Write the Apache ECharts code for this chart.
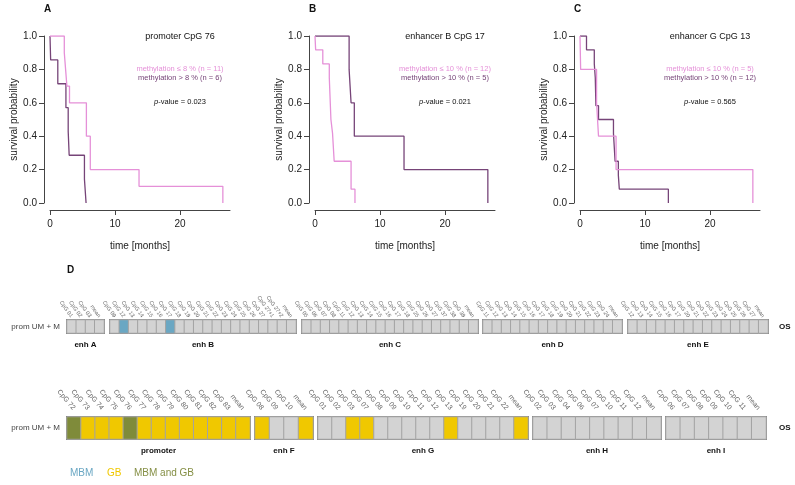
<!DOCTYPE html>
<html>
<head>
<meta charset="utf-8">
<script src="https://cdn.jsdelivr.net/npm/echarts@6/dist/echarts.min.js"></script>
<style>
  html, body { margin: 0; padding: 0; background: #fff; }
  #chart { width: 795px; height: 485px; }
</style>
</head>
<body>
<div id="chart"></div>
<script>
// Kaplan-Meier steps: [time in months, survival probability]
const kmA_low = [[0, 1], [2.2, 0.9], [2.4, 0.8], [2.6, 0.7], [3.0, 0.6], [5.6, 0.4], [6.2, 0.2], [13.7, 0.1], [26.6, 0]];
const kmA_high = [[0, 1], [0.1, 0.857], [1.2, 0.714], [2.45, 0.571], [2.8, 0.429], [2.95, 0.286], [5.3, 0.143], [5.55, 0]];
const kmB_low = [[0, 1], [0.1, 0.917], [1.2, 0.833], [2.2, 0.75], [2.45, 0.5], [2.7, 0.417], [2.95, 0.25], [5.55, 0.083], [6.15, 0]];
const kmB_high = [[0, 1], [5.25, 0.8], [5.55, 0.6], [6.05, 0.4], [13.7, 0.2], [26.6, 0]];
const kmC_low = [[0, 1], [0.1, 0.8], [2.55, 0.6], [2.85, 0.4], [5.55, 0.2], [26.6, 0]];
const kmC_high = [[0, 1], [1.0, 0.917], [2.2, 0.833], [2.35, 0.75], [2.45, 0.583], [2.85, 0.5], [5.15, 0.417], [5.4, 0.25], [5.9, 0.167], [6.05, 0.083], [13.6, 0]];

const yTicks = [0, 0.2, 0.4, 0.6, 0.8, 1.0];
const xTicks = [0, 10, 20];

// heat strip: 0 = none, 1 = MBM, 2 = GB, 3 = MBM and GB
const enhA_cpg = ['CpG 01', 'CpG 02', 'CpG 03', 'mean'];
const enhA_val = [0, 0, 0, 0];
const enhB_cpg = ['CpG 09', 'CpG 12', 'CpG 13', 'CpG 14', 'CpG 15', 'CpG 16', 'CpG 17', 'CpG 18', 'CpG 19', 'CpG 20', 'CpG 21', 'CpG 22', 'CpG 23', 'CpG 24', 'CpG 25', 'CpG 26', 'CpG 27', 'CpG 27+1', 'CpG 27+2', 'mean'];
const enhB_val = [0, 1, 0, 0, 0, 0, 1, 0, 0, 0, 0, 0, 0, 0, 0, 0, 0, 0, 0, 0];
const enhC_cpg = ['CpG 05', 'CpG 06', 'CpG 07', 'CpG 08', 'CpG 11', 'CpG 12', 'CpG 13', 'CpG 14', 'CpG 15', 'CpG 16', 'CpG 17', 'CpG 18', 'CpG 25', 'CpG 26', 'CpG 27', 'CpG 37', 'CpG 38', 'CpG 39', 'mean'];
const enhC_val = [0, 0, 0, 0, 0, 0, 0, 0, 0, 0, 0, 0, 0, 0, 0, 0, 0, 0, 0];
const enhD_cpg = ['CpG 11', 'CpG 12', 'CpG 13', 'CpG 14', 'CpG 15', 'CpG 16', 'CpG 17', 'CpG 18', 'CpG 19', 'CpG 20', 'CpG 21', 'CpG 22', 'CpG 23', 'CpG 24', 'mean'];
const enhD_val = [0, 0, 0, 0, 0, 0, 0, 0, 0, 0, 0, 0, 0, 0, 0];
const enhE_cpg = ['CpG 12', 'CpG 13', 'CpG 14', 'CpG 15', 'CpG 16', 'CpG 17', 'CpG 20', 'CpG 21', 'CpG 22', 'CpG 23', 'CpG 24', 'CpG 25', 'CpG 26', 'CpG 27', 'mean'];
const enhE_val = [0, 0, 0, 0, 0, 0, 0, 0, 0, 0, 0, 0, 0, 0, 0];
const prom_cpg = ['CpG 72', 'CpG 73', 'CpG 74', 'CpG 75', 'CpG 76', 'CpG 77', 'CpG 78', 'CpG 79', 'CpG 80', 'CpG 81', 'CpG 82', 'CpG 83', 'mean'];
const prom_val = [3, 2, 2, 2, 3, 2, 2, 2, 2, 2, 2, 2, 2];
const enhF_cpg = ['CpG 08', 'CpG 09', 'CpG 10', 'mean'];
const enhF_val = [2, 0, 0, 2];
const enhG_cpg = ['CpG 01', 'CpG 02', 'CpG 03', 'CpG 07', 'CpG 08', 'CpG 09', 'CpG 10', 'CpG 11', 'CpG 12', 'CpG 13', 'CpG 19', 'CpG 20', 'CpG 21', 'CpG 22', 'mean'];
const enhG_val = [0, 0, 2, 2, 0, 0, 0, 0, 0, 2, 0, 0, 0, 0, 2];
const enhH_cpg = ['CpG 02', 'CpG 03', 'CpG 04', 'CpG 06', 'CpG 07', 'CpG 10', 'CpG 11', 'CpG 12', 'mean'];
const enhH_val = [0, 0, 0, 0, 0, 0, 0, 0, 0];
const enhI_cpg = ['CpG 06', 'CpG 07', 'CpG 08', 'CpG 09', 'CpG 10', 'CpG 11', 'mean'];
const enhI_val = [0, 0, 0, 0, 0, 0, 0];

const FONT = 'Liberation Sans, Arial, sans-serif';
const pink = '#e590d8';
const purple = '#764478';

const kmPanels = [
  { letter: 'A', left: 50, title: 'promoter CpG 76', lowLab: 'methylation ≤ 8 % (n = 11)', highLab: 'methylation > 8 % (n = 6)', p: '0.023', low: kmA_low, high: kmA_high },
  { letter: 'B', left: 315, title: 'enhancer B CpG 17', lowLab: 'methylation ≤ 10 % (n = 12)', highLab: 'methylation > 10 % (n = 5)', p: '0.021', low: kmB_low, high: kmB_high },
  { letter: 'C', left: 580, title: 'enhancer G CpG 13', lowLab: 'methylation ≤ 10 % (n = 5)', highLab: 'methylation > 10 % (n = 12)', p: '0.565', low: kmC_low, high: kmC_high }
];

const stripRows = [
  { top: 320, height: 13, fontSize: 5.5, rotate: 55, margin: 3, nameY: 345, groups: [
    { name: 'enh A', left: 67, width: 37, cpg: enhA_cpg, val: enhA_val },
    { name: 'enh B', left: 110, width: 186, cpg: enhB_cpg, val: enhB_val },
    { name: 'enh C', left: 302, width: 176, cpg: enhC_cpg, val: enhC_val },
    { name: 'enh D', left: 483, width: 139, cpg: enhD_cpg, val: enhD_val },
    { name: 'enh E', left: 628, width: 140, cpg: enhE_cpg, val: enhE_val }
  ]},
  { top: 417, height: 22, fontSize: 7, rotate: 50, margin: 8, nameY: 451, groups: [
    { name: 'promoter', left: 67, width: 183, cpg: prom_cpg, val: prom_val },
    { name: 'enh F', left: 255, width: 58, cpg: enhF_cpg, val: enhF_val },
    { name: 'enh G', left: 318, width: 210, cpg: enhG_cpg, val: enhG_val },
    { name: 'enh H', left: 533, width: 128, cpg: enhH_cpg, val: enhH_val },
    { name: 'enh I', left: 666, width: 100, cpg: enhI_cpg, val: enhI_val }
  ]}
];

const grid = [], xAxis = [], yAxis = [], series = [], graphic = [];
const heatIdx = [];

kmPanels.forEach((pn, i) => {
  grid.push({ left: pn.left, top: 36, width: 180, height: 167 });
  xAxis.push({
    type: 'value', gridIndex: i, min: 0, max: 27.7, offset: 7,
    name: 'time [months]', nameLocation: 'middle', nameGap: 31,
    nameTextStyle: { fontFamily: FONT, fontSize: 10, color: '#222' },
    axisLine: { show: true, onZero: false, lineStyle: { color: '#444', width: 1 } },
    axisTick: { show: true, length: 5, customValues: xTicks, lineStyle: { color: '#444' } },
    axisLabel: { customValues: xTicks, margin: 9, fontFamily: FONT, fontSize: 10, color: '#222' },
    splitLine: { show: false }
  });
  yAxis.push({
    type: 'value', gridIndex: i, min: 0, max: 1, offset: 6,
    name: 'survival probability', nameLocation: 'middle', nameGap: 25, nameRotate: 90,
    nameTextStyle: { fontFamily: FONT, fontSize: 10, color: '#222' },
    axisLine: { show: true, onZero: false, lineStyle: { color: '#444', width: 1 } },
    axisTick: { show: true, length: 5, customValues: yTicks, lineStyle: { color: '#444' } },
    axisLabel: { customValues: yTicks, margin: 7, fontFamily: FONT, fontSize: 10, color: '#222',
      formatter: v => v.toFixed(1) },
    splitLine: { show: false }
  });
  [[pn.high, purple], [pn.low, pink]].forEach(([d, c]) => {
    series.push({
      type: 'line', xAxisIndex: i, yAxisIndex: i, data: d, step: 'end',
      showSymbol: false, symbol: 'none', silent: true,
      lineStyle: { color: c, width: 1.3 }
    });
  });
  const cx = pn.left + 130;
  graphic.push(
    { type: 'text', left: pn.left - 6, top: 4, style: { text: pn.letter, font: 'bold 10px ' + FONT, fill: '#111' } },
    { type: 'text', x: cx, y: 37, style: { text: pn.title, font: '9px ' + FONT, fill: '#111', align: 'center', verticalAlign: 'middle' } },
    { type: 'text', x: cx, y: 69, style: { text: pn.lowLab, font: '7.5px ' + FONT, fill: pink, align: 'center', verticalAlign: 'middle' } },
    { type: 'text', x: cx, y: 77.5, style: { text: pn.highLab, font: '7.5px ' + FONT, fill: purple, align: 'center', verticalAlign: 'middle' } },
    { type: 'text', x: cx, y: 102, style: {
      text: '{i|p}-value = ' + pn.p, font: '7.5px ' + FONT, fill: '#111', align: 'center', verticalAlign: 'middle',
      rich: { i: { fontStyle: 'italic', fontSize: 7.5, fontFamily: FONT, fill: '#111' } } } }
  );
});

stripRows.forEach(row => {
  row.groups.forEach((g, gi) => {
    const k = grid.length;
    grid.push({ left: g.left, top: row.top, width: g.width, height: row.height,
      show: true, borderColor: '#7d7d7d', borderWidth: 2, backgroundColor: '#d3d3d3' });
    xAxis.push({
      type: 'category', gridIndex: k, data: g.cpg, position: 'top',
      axisLine: { show: false }, axisTick: { show: false }, splitLine: { show: false },
      axisLabel: { interval: 0, rotate: row.rotate, margin: row.margin, fontFamily: FONT, fontSize: row.fontSize, color: '#666' }
    });
    yAxis.push({
      type: 'category', gridIndex: k, data: ['prom UM + M'],
      axisLine: { show: false }, axisTick: { show: false }, splitLine: { show: false },
      axisLabel: { show: gi === 0, margin: 7, fontFamily: FONT, fontSize: 8, color: '#444' }
    });
    heatIdx.push(series.length);
    series.push({
      type: 'heatmap', xAxisIndex: k, yAxisIndex: k, silent: true,
      data: g.val.map((v, j) => [j, 0, v]),
      itemStyle: { borderColor: '#a3a3a3', borderWidth: 1 }
    });
    graphic.push({ type: 'text', x: g.left + g.width / 2, y: row.nameY,
      style: { text: g.name, font: 'bold 8px ' + FONT, fill: '#111', align: 'center', verticalAlign: 'middle' } });
  });
  graphic.push({ type: 'text', x: 779, y: row.top + row.height / 2,
    style: { text: 'OS', font: 'bold 8px ' + FONT, fill: '#111', verticalAlign: 'middle' } });
});

graphic.push(
  { type: 'text', x: 67, y: 270, style: { text: 'D', font: 'bold 10px ' + FONT, fill: '#111', verticalAlign: 'middle' } },
  { type: 'text', x: 70, y: 473, style: { text: 'MBM', font: '10px ' + FONT, fill: '#6aa7c3', verticalAlign: 'middle' } },
  { type: 'text', x: 107, y: 473, style: { text: 'GB', font: '10px ' + FONT, fill: '#f0c800', verticalAlign: 'middle' } },
  { type: 'text', x: 134, y: 473, style: { text: 'MBM and GB', font: '10px ' + FONT, fill: '#858f45', verticalAlign: 'middle' } }
);

const myChart = echarts.init(document.getElementById('chart'));
myChart.setOption({
  animation: false,
  backgroundColor: '#fff',
  grid, xAxis, yAxis, series, graphic,
  visualMap: {
    type: 'piecewise', show: false, dimension: 2, seriesIndex: heatIdx,
    pieces: [
      { value: 0, color: '#d3d3d3' },
      { value: 1, color: '#6aa7c3' },
      { value: 2, color: '#f0c800' },
      { value: 3, color: '#7f8b3a' }
    ]
  }
});
window.onresize = myChart.resize;
</script>
</body>
</html>
